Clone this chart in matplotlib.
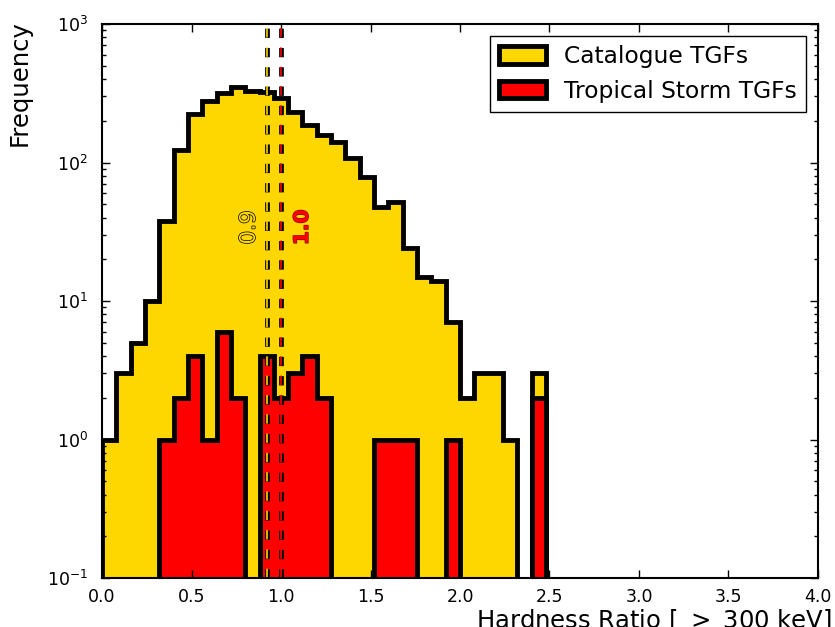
import numpy as np
import matplotlib
matplotlib.use('Agg')
import matplotlib.pyplot as plt
import matplotlib.patheffects as pe
from matplotlib.ticker import FormatStrFormatter

# hardness ratio bins (0.08 wide, 0 - 2.48)
bin_width = 0.08
bin_edges = np.round(np.arange(32) * bin_width, 2)

# counts per bin
catalogue_counts = [1, 3, 5, 10, 38, 124, 224, 279, 320, 349, 330, 324, 291, 233, 187,
                    158, 141, 107, 78, 48, 52, 24, 15, 14, 7, 2, 3, 3, 1, 0, 3]
storm_counts = [0, 0, 0, 0, 1, 2, 4, 1, 6, 2, 0, 4, 2, 3, 4, 2,
                0, 0, 0, 1, 1, 1, 0, 0, 1, 0, 0, 0, 0, 0, 2]

# median hardness ratio of each sample
catalogue_median = 0.92
storm_median = 1.0

plt.rcParams['lines.scale_dashes'] = False

fig = plt.figure(figsize=(8.35, 6.27), dpi=100)
ax = fig.add_axes([0.1222, 0.0781, 0.8574, 0.8836])

centres = bin_edges[:-1] + bin_width / 2
ax.hist(centres, bins=bin_edges, weights=catalogue_counts, histtype='stepfilled',
        log=True, facecolor='gold', edgecolor='k', lw=3.5, label='Catalogue TGFs')
ax.hist(centres, bins=bin_edges, weights=storm_counts, histtype='stepfilled',
        log=True, facecolor='red', edgecolor='k', lw=3.5, label='Tropical Storm TGFs')

# median markers
for med, col in [(catalogue_median, 'gold'), (storm_median, 'red')]:
    ax.axvline(med, color='k', lw=3.4, dashes=(6.7, 7.2))
    ax.axvline(med, color=col, lw=1.2, dashes=(6.7, 7.2))

ax.text(catalogue_median - 0.1, 34, '%.1f' % catalogue_median, rotation=90,
        ha='center', va='center', color='gold', fontsize=15.5,
        path_effects=[pe.withStroke(linewidth=1.0, foreground='k')])
ax.text(storm_median + 0.12, 34, '%.1f' % storm_median, rotation=90,
        ha='center', va='center', color='red', fontsize=14.5, fontweight='bold',
        path_effects=[pe.withStroke(linewidth=1.0, foreground='darkred')])

ax.set_xlim(0, 4)
ax.set_ylim(0.1, 1000)
ax.set_xticks(np.arange(0, 4.01, 0.5))
ax.xaxis.set_major_formatter(FormatStrFormatter('%.1f'))
ax.tick_params(which='both', direction='in', top=True, right=True, labelsize=12.5)
ax.tick_params(which='major', length=6, width=1)
ax.tick_params(which='minor', length=3, width=1)
ax.tick_params(axis='y', which='both', pad=10)
ax.tick_params(axis='x', pad=7)
for s in ax.spines.values():
    s.set_linewidth(1.5)

ax.set_ylabel('Frequency', fontsize=17.5, loc='top')
ax.yaxis.set_label_coords(-0.098, 1.007)
ax.set_xlabel(r'Hardness Ratio [ $>$ 300 keV]', fontsize=17.5, loc='right')
ax.xaxis.set_label_coords(1.02, -0.052)

leg = ax.legend(loc='upper right', fontsize=16.8, fancybox=False, framealpha=1,
                edgecolor='k', borderaxespad=0.5, handleheight=0.8)
leg.get_frame().set_linewidth(1.0)

plt.savefig('out.png', dpi=100)
